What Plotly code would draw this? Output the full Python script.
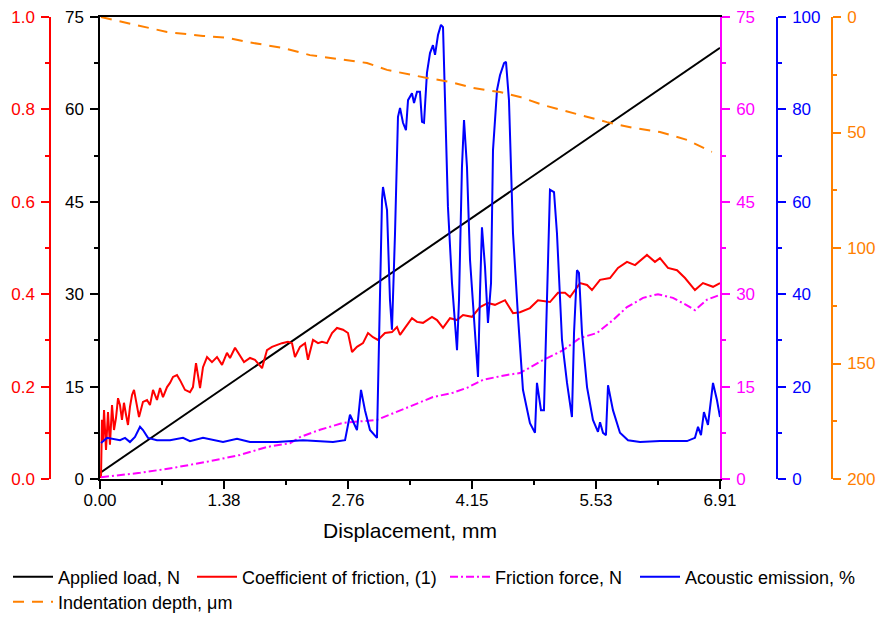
import plotly.graph_objects as go

# ---------------- data ----------------
x_tickvals = [0.0, 1.382, 2.764, 4.146, 5.528, 6.91]
x_ticktext = ["0.00", "1.38", "2.76", "4.15", "5.53", "6.91"]

load_x = [0.0, 1.382, 2.764, 4.146, 5.528, 6.91]
load_y = [1.0, 14.8, 28.6, 42.4, 56.2, 70.0]

cof_x = [0.011, 0.022, 0.033, 0.045, 0.067, 0.089, 0.111, 0.134, 0.156, 0.178,
         0.201, 0.223, 0.245, 0.267, 0.290, 0.312, 0.334, 0.357, 0.379, 0.412,
         0.435, 0.479, 0.524, 0.557, 0.591, 0.635, 0.669, 0.702, 0.747, 0.780,
         0.814, 0.858, 0.892, 0.947, 1.003, 1.036, 1.070, 1.115, 1.148, 1.193,
         1.248, 1.304, 1.360, 1.415, 1.449, 1.505, 1.560, 1.605, 1.672, 1.727,
         1.806, 1.861, 1.917, 2.028, 2.095, 2.140, 2.173, 2.229, 2.285, 2.318,
         2.374, 2.430, 2.474, 2.530, 2.586, 2.641, 2.708, 2.764, 2.809, 2.864,
         2.931, 2.987, 3.043, 3.098, 3.176, 3.254, 3.310, 3.344, 3.399, 3.477,
         3.533, 3.600, 3.700, 3.756, 3.823, 3.901, 3.979, 4.046, 4.146, 4.235,
         4.324, 4.402, 4.514, 4.603, 4.681, 4.792, 4.881, 5.015, 5.104, 5.182,
         5.238, 5.350, 5.428, 5.483, 5.573, 5.684, 5.773, 5.873, 5.963, 6.096,
         6.185, 6.241, 6.330, 6.431, 6.520, 6.631, 6.720, 6.832, 6.910]
cof_y = [0.002, 0.128, 0.084, 0.149, 0.063, 0.145, 0.074, 0.160, 0.106, 0.132,
         0.175, 0.160, 0.128, 0.165, 0.139, 0.117, 0.156, 0.182, 0.193, 0.160,
         0.134, 0.167, 0.171, 0.160, 0.193, 0.171, 0.197, 0.177, 0.199, 0.208,
         0.221, 0.225, 0.214, 0.193, 0.188, 0.199, 0.251, 0.197, 0.242, 0.264,
         0.253, 0.264, 0.247, 0.273, 0.262, 0.284, 0.268, 0.253, 0.262, 0.258,
         0.240, 0.279, 0.286, 0.294, 0.297, 0.294, 0.264, 0.286, 0.294, 0.258,
         0.301, 0.294, 0.297, 0.294, 0.316, 0.327, 0.323, 0.316, 0.275, 0.286,
         0.294, 0.316, 0.307, 0.301, 0.316, 0.318, 0.329, 0.312, 0.327, 0.348,
         0.340, 0.338, 0.351, 0.344, 0.327, 0.348, 0.344, 0.355, 0.351, 0.372,
         0.381, 0.377, 0.387, 0.359, 0.361, 0.370, 0.387, 0.383, 0.403, 0.403,
         0.394, 0.424, 0.420, 0.409, 0.431, 0.435, 0.457, 0.470, 0.463, 0.485,
         0.470, 0.478, 0.457, 0.452, 0.435, 0.409, 0.424, 0.416, 0.424]

ff_x = [0.011, 0.446, 0.814, 1.193, 1.560, 1.861, 2.118, 2.229, 2.452, 2.708,
        3.087, 3.310, 3.533, 3.711, 3.934, 4.090, 4.269, 4.536, 4.681, 4.937,
        5.160, 5.350, 5.539, 5.717, 5.873, 6.052, 6.219, 6.386, 6.542, 6.631,
        6.765, 6.910]
ff_y = [0.3, 1.0, 1.8, 2.8, 3.9, 5.2, 5.8, 6.8, 8.0, 9.1,
        9.6, 10.9, 12.3, 13.3, 14.0, 14.8, 16.1, 16.9, 17.2, 19.3,
        20.9, 22.9, 23.7, 25.8, 27.9, 29.4, 30.0, 29.4, 28.2, 27.4,
        29.1, 29.9]

ae_x = [0.011, 0.078, 0.223, 0.279, 0.334, 0.390, 0.446, 0.479, 0.535, 0.635,
        0.780, 0.925, 1.003, 1.148, 1.371, 1.527, 1.672, 1.973, 2.262, 2.597,
        2.731, 2.786, 2.864, 2.909, 2.953, 3.009, 3.087, 3.109, 3.143, 3.154,
        3.199, 3.232, 3.254, 3.288, 3.321, 3.344, 3.377, 3.410, 3.433, 3.477,
        3.500, 3.533, 3.566, 3.589, 3.611, 3.644, 3.678, 3.711, 3.734, 3.767,
        3.800, 3.823, 3.856, 3.878, 3.923, 3.979, 4.001, 4.034, 4.057, 4.090,
        4.124, 4.179, 4.213, 4.235, 4.257, 4.291, 4.324, 4.358, 4.380, 4.425,
        4.458, 4.503, 4.525, 4.558, 4.603, 4.659, 4.714, 4.792, 4.848, 4.870,
        4.915, 4.948, 4.982, 5.015, 5.060, 5.093, 5.149, 5.205, 5.260, 5.283,
        5.316, 5.338, 5.372, 5.428, 5.494, 5.550, 5.573, 5.606, 5.639, 5.662,
        5.717, 5.795, 5.885, 6.019, 6.241, 6.542, 6.631, 6.665, 6.698, 6.731,
        6.776, 6.832, 6.876, 6.910]
ae_y = [7.8, 8.9, 8.4, 8.9, 8.0, 9.1, 11.3, 10.6, 8.9, 8.4,
        8.4, 8.9, 8.2, 8.9, 8.0, 8.7, 8.0, 8.0, 8.4, 8.0,
        8.4, 13.9, 10.6, 19.3, 14.9, 10.6, 8.9, 31.6, 60.4, 63.2,
        58.2, 38.7, 32.3, 53.2, 78.4, 80.3, 77.1, 75.5, 82.0, 83.5,
        81.4, 83.8, 83.8, 77.3, 77.1, 87.9, 92.2, 93.9, 91.8, 96.1,
        98.3, 97.8, 74.9, 58.9, 42.4, 27.9, 38.7, 67.5, 77.7, 67.5,
        47.4, 31.6, 22.1, 40.3, 54.5, 45.9, 33.8, 42.4, 71.2, 84.2,
        87.4, 90.0, 90.3, 82.0, 53.2, 35.1, 19.3, 12.1, 10.0, 20.8,
        14.9, 14.9, 38.7, 62.6, 62.1, 53.2, 30.1, 20.8, 13.4, 31.6,
        45.2, 44.6, 31.6, 19.9, 12.8, 10.2, 12.3, 10.0, 9.5, 20.3,
        14.9, 10.0, 8.4, 8.0, 8.2, 8.2, 8.9, 11.3, 9.5, 14.5,
        11.7, 20.8, 17.1, 13.4]

depth_x = [0.011, 0.479, 0.747, 1.148, 1.415, 1.638, 2.040, 2.340, 2.563, 2.786,
           2.976, 3.199, 3.455, 3.644, 3.901, 4.157, 4.458, 4.681, 4.937, 5.350,
           5.650, 5.940, 6.241, 6.542, 6.820]
depth_y = [0.0, 4.3, 6.5, 8.2, 9.0, 10.8, 13.4, 16.5, 17.7, 18.6,
           19.9, 22.9, 25.1, 26.4, 28.1, 30.7, 32.5, 34.6, 38.1, 42.4,
           45.5, 48.0, 49.8, 53.2, 58.4]

# ---------------- styling ----------------
W, H = 880, 619
BLACK, RED, MAG, BLUE, ORANGE = "#000000", "#FF0000", "#FF00FF", "#0000FF", "#FF8000"
FONT = "Liberation Sans, Arial, sans-serif"
TICKF = 17

fig = go.Figure()
fig.add_trace(go.Scatter(x=load_x, y=load_y, mode="lines", name="Applied load, N",
                         line=dict(color=BLACK, width=2), yaxis="y", legend="legend", showlegend=True))
fig.add_trace(go.Scatter(x=cof_x, y=cof_y, mode="lines", name="Coefficient of friction, (1)",
                         line=dict(color=RED, width=2), yaxis="y2", legend="legend2", showlegend=True))
fig.add_trace(go.Scatter(x=ff_x, y=ff_y, mode="lines", name="Friction force, N",
                         line=dict(color=MAG, width=2, dash="8px,3px,2px,3px"), yaxis="y3",
                         legend="legend3", showlegend=True))
fig.add_trace(go.Scatter(x=depth_x, y=depth_y, mode="lines", name="Indentation depth, μm",
                         line=dict(color=ORANGE, width=2, dash="11px,8px"), yaxis="y5",
                         legend="legend5", showlegend=True))
fig.add_trace(go.Scatter(x=ae_x, y=ae_y, mode="lines", name="Acoustic emission, %",
                         line=dict(color=BLUE, width=2), yaxis="y4", legend="legend4", showlegend=True))

x0, x1 = 100 / W, 720 / W
y0, y1 = (H - 479) / H, (H - 17) / H


def yax(color, rng, dtick, minor, **kw):
    d = dict(range=rng, tickmode="linear", tick0=0, dtick=dtick,
             showline=True, linecolor=color, linewidth=1.5,
             ticks="outside", ticklen=8, tickwidth=1.5, tickcolor=color,
             minor=dict(dtick=minor, tick0=0, ticks="outside", ticklen=4, tickwidth=1.5, tickcolor=color),
             tickfont=dict(color=color, size=TICKF, family=FONT),
             showgrid=False, zeroline=False, domain=[y0, y1], ticklabelstandoff=3,
             automargin=False)
    d.update(kw)
    return d


minor_x = [(a + b) / 2 for a, b in zip(x_tickvals[:-1], x_tickvals[1:])]

legend_common = dict(orientation="h", yanchor="middle", xanchor="left",
                     font=dict(size=18, family=FONT, color=BLACK),
                     bgcolor="rgba(0,0,0,0)", borderwidth=0, itemwidth=40, visible=True)
ROW1 = 1 - 577 / H
ROW2 = 1 - 602 / H

fig.update_layout(
    width=W, height=H, margin=dict(l=0, r=0, t=0, b=0, autoexpand=False),
    paper_bgcolor="white", plot_bgcolor="white", showlegend=True,
    font=dict(family=FONT, size=TICKF, color=BLACK),
    xaxis=dict(domain=[x0, x1], range=[0, 6.91], tickmode="array",
               tickvals=x_tickvals, ticktext=x_ticktext,
               minor=dict(tickvals=minor_x, ticks="outside", ticklen=4, tickwidth=1.5, tickcolor=BLACK),
               showline=True, linecolor=BLACK, linewidth=1.5, mirror=True,
               ticks="outside", ticklen=8, tickwidth=1.5, tickcolor=BLACK,
               tickfont=dict(size=TICKF, family=FONT, color=BLACK), ticklabelstandoff=-3,
               showgrid=False, zeroline=False, anchor="y", automargin=False,
               title=dict(text="Displacement, mm", font=dict(size=21, family=FONT, color=BLACK), standoff=14)),
    yaxis=yax(BLACK, [0, 75], 15, 7.5, anchor="x", side="left"),
    yaxis2=yax(RED, [0, 1], 0.2, 0.1, anchor="free", position=50 / W, side="left",
               overlaying="y", tickformat=".1f"),
    yaxis3=yax(MAG, [0, 75], 15, 7.5, anchor="x", side="right", overlaying="y"),
    yaxis4=yax(BLUE, [0, 100], 20, 10, anchor="free", position=777 / W, side="right", overlaying="y"),
    yaxis5=yax(ORANGE, [200, 0], 50, 25, anchor="free", position=832 / W, side="right", overlaying="y"),
    legend=dict(legend_common, x=8 / W, y=ROW1),
    legend2=dict(legend_common, x=192 / W, y=ROW1),
    legend3=dict(legend_common, x=445 / W, y=ROW1),
    legend4=dict(legend_common, x=635 / W, y=ROW1),
    legend5=dict(legend_common, x=8 / W, y=ROW2),
)

fig.write_html("out.html")
